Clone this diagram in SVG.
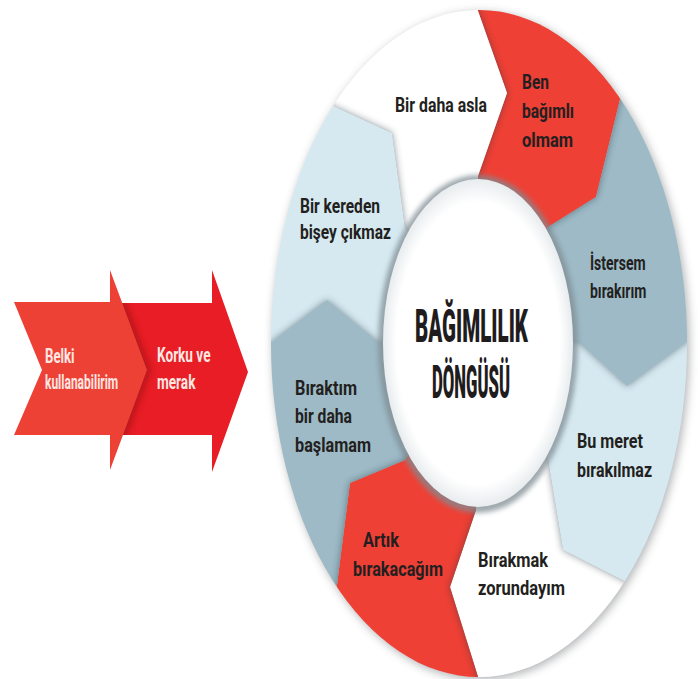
<svg xmlns="http://www.w3.org/2000/svg" xmlns:xlink="http://www.w3.org/1999/xlink" width="698" height="679" viewBox="0 0 698 679">
<style>
.red{fill:#ef4035}
.gray{fill:#9dbac6}
.lblue{fill:#d6e9f1}
.white{fill:#ffffff}
.lbl{font-family:"Roboto","Liberation Sans",sans-serif;font-weight:700;font-size:21px;fill:#231f20}
.sm{font-size:20px}
.wl{font-family:"Roboto","Liberation Sans",sans-serif;font-weight:700;font-size:20px;fill:#fde7e2}
.big{font-family:"Roboto","Liberation Sans",sans-serif;font-weight:900;font-size:46px;fill:#1f1c1d}
.shadow{fill:#23343d;opacity:0.5}
</style>
<defs>
<filter id="blur" x="-20%" y="-20%" width="140%" height="140%"><feGaussianBlur stdDeviation="3.5"/></filter>
<filter id="soft" x="-10%" y="-10%" width="120%" height="120%"><feGaussianBlur stdDeviation="5"/></filter>
<filter id="rimblur" x="-10%" y="-10%" width="120%" height="120%"><feGaussianBlur stdDeviation="2.5"/></filter>
<radialGradient id="innerGrad" cx="50%" cy="50%" r="50%">
<stop offset="0.86" stop-color="#ffffff"/>
<stop offset="1" stop-color="#e8ecee"/>
</radialGradient>
<path id="p1" d="M478,343 L478,176 L507,93 L466,-23 L606,-150 L627,71 L596,197 L548,227 Z"/>
<path id="p2" d="M478,343 L548,227 L596,197 L627,71 L787,139 L711,324 L627,386 L579,342 Z"/>
<path id="p3" d="M478,343 L579,342 L627,386 L711,324 L787,548 L640,589 L563,550 L548,460 Z"/>
<path id="p4" d="M478,343 L548,460 L563,550 L640,589 L606,837 L489,712 L450,587 L476,510 Z"/>
<path id="p5" d="M478,343 L476,510 L450,587 L489,712 L352,837 L333,616 L350,483 L405,460 Z"/>
<path id="p6" d="M478,343 L405,460 L350,483 L333,616 L171,548 L249,359 L327,300 L378,342 Z"/>
<path id="p7" d="M478,343 L378,342 L327,300 L249,359 L171,139 L316,98 L392,133 L405,227 Z"/>
<path id="p8" d="M478,343 L405,227 L392,133 L316,98 L352,-150 L466,-23 L507,93 L478,176 Z"/>
<clipPath id="ring"><ellipse cx="479" cy="343.5" rx="208" ry="333.5"/></clipPath>
<clipPath id="c1"><use xlink:href="#p1"/></clipPath>
<clipPath id="c2"><use xlink:href="#p2"/></clipPath>
<clipPath id="c3"><use xlink:href="#p3"/></clipPath>
<clipPath id="c4"><use xlink:href="#p4"/></clipPath>
<clipPath id="c5"><use xlink:href="#p5"/></clipPath>
<clipPath id="c6"><use xlink:href="#p6"/></clipPath>
<clipPath id="c7"><use xlink:href="#p7"/></clipPath>
<clipPath id="c8"><use xlink:href="#p8"/></clipPath>
<clipPath id="a2clip"><polygon points="100,303 212,303 212,270 248,372 212,472 212,435 100,435"/></clipPath>
</defs>

<rect width="698" height="679" fill="#ffffff"/>

<!-- left arrows -->
<g id="arrow-korku">
<polygon points="100,303 212,303 212,270 248,372 212,472 212,435 100,435" fill="#e81d25"/>
<g clip-path="url(#a2clip)">
<polygon points="14,302 110,302 110,270 147,370 110,470 110,435 14,435 42,370" fill="#6a0a0e" opacity="0.45" filter="url(#blur)" transform="translate(3,0)"/>
</g>
<text class="wl" transform="translate(157,362) scale(0.68,1)">Korku ve</text>
<text class="wl" transform="translate(157,389) scale(0.68,1)">merak</text>
</g>
<g id="arrow-belki">
<polygon points="14,302 110,302 110,270 147,370 110,470 110,435 14,435 42,370" fill="#ee4136"/>
<text class="wl" transform="translate(45,363) scale(0.66,1)">Belki</text>
<text class="wl" transform="translate(45,389) scale(0.6,1)">kullanabilirim</text>
</g>

<!-- ring outer shadow -->
<ellipse cx="481" cy="346" rx="208" ry="333.5" fill="#3a3f44" opacity="0.4" filter="url(#soft)"/>

<g id="connectors"/>

<g id="seg-ben-bagimli" clip-path="url(#ring)">
<use xlink:href="#p1" class="red"/>
<g clip-path="url(#c1)"><use xlink:href="#p8" class="shadow" filter="url(#blur)"/></g>
<text class="lbl" x="522" y="89" textLength="27" lengthAdjust="spacingAndGlyphs">Ben</text>
<text class="lbl" x="522" y="118" textLength="52" lengthAdjust="spacingAndGlyphs">bağımlı</text>
<text class="lbl" x="522" y="147" textLength="51" lengthAdjust="spacingAndGlyphs">olmam</text>
</g>

<g id="seg-istersem" clip-path="url(#ring)">
<use xlink:href="#p2" class="gray"/>
<g clip-path="url(#c2)"><use xlink:href="#p1" class="shadow" filter="url(#blur)"/></g>
<text class="lbl sm" transform="translate(590,270) scale(0.7,1)">İstersem</text>
<text class="lbl sm" transform="translate(590,298) scale(0.7,1)">bırakırım</text>
</g>

<g id="seg-bu-meret" clip-path="url(#ring)">
<use xlink:href="#p3" class="lblue"/>
<g clip-path="url(#c3)"><use xlink:href="#p2" class="shadow" filter="url(#blur)"/></g>
<text class="lbl" x="577" y="448" textLength="66" lengthAdjust="spacingAndGlyphs">Bu meret</text>
<text class="lbl" x="577" y="477" textLength="75" lengthAdjust="spacingAndGlyphs">bırakılmaz</text>
</g>

<g id="seg-birakmak" clip-path="url(#ring)">
<use xlink:href="#p4" class="white"/>
<g clip-path="url(#c4)"><use xlink:href="#p3" class="shadow" filter="url(#blur)"/></g>
<text class="lbl" x="478" y="567" textLength="70" lengthAdjust="spacingAndGlyphs">Bırakmak</text>
<text class="lbl" x="478" y="595" textLength="87" lengthAdjust="spacingAndGlyphs">zorundayım</text>
</g>

<g id="seg-artik" clip-path="url(#ring)">
<use xlink:href="#p5" class="red"/>
<g clip-path="url(#c5)"><use xlink:href="#p4" class="shadow" filter="url(#blur)"/></g>
<text class="lbl" x="363" y="547" textLength="36" lengthAdjust="spacingAndGlyphs">Artık</text>
<text class="lbl" x="353" y="576" textLength="90" lengthAdjust="spacingAndGlyphs">bırakacağım</text>
</g>

<g id="seg-biraktim" clip-path="url(#ring)">
<use xlink:href="#p6" class="gray"/>
<g clip-path="url(#c6)"><use xlink:href="#p5" class="shadow" filter="url(#blur)"/></g>
<text class="lbl" x="295" y="395" textLength="62" lengthAdjust="spacingAndGlyphs">Bıraktım</text>
<text class="lbl" x="295" y="423" textLength="57" lengthAdjust="spacingAndGlyphs">bir daha</text>
<text class="lbl" x="295" y="452" textLength="76" lengthAdjust="spacingAndGlyphs">başlamam</text>
</g>

<g id="seg-bir-kereden" clip-path="url(#ring)">
<use xlink:href="#p7" class="lblue"/>
<g clip-path="url(#c7)"><use xlink:href="#p6" class="shadow" filter="url(#blur)"/></g>
<text class="lbl" x="300" y="213" textLength="80" lengthAdjust="spacingAndGlyphs">Bir kereden</text>
<text class="lbl" x="300" y="239" textLength="91" lengthAdjust="spacingAndGlyphs">bişey çıkmaz</text>
</g>

<g id="seg-bir-daha-asla" clip-path="url(#ring)">
<use xlink:href="#p8" class="white"/>
<g clip-path="url(#c8)"><use xlink:href="#p7" class="shadow" filter="url(#blur)"/></g>
<text class="lbl" x="395" y="112" textLength="92" lengthAdjust="spacingAndGlyphs">Bir daha asla</text>
</g>

<g id="center">
<ellipse cx="478" cy="344" rx="100" ry="169" fill="#7f8c93" opacity="0.75" filter="url(#rimblur)"/>
<ellipse cx="478" cy="343" rx="95" ry="164" fill="url(#innerGrad)"/>
<text class="big" transform="translate(415,342) scale(0.5,1)" textLength="226" lengthAdjust="spacingAndGlyphs">BAĞIMLILIK</text>
<text class="big" transform="translate(432,398) scale(0.5,1)" textLength="156" lengthAdjust="spacingAndGlyphs">DÖNGÜSÜ</text>
</g>
</svg>
